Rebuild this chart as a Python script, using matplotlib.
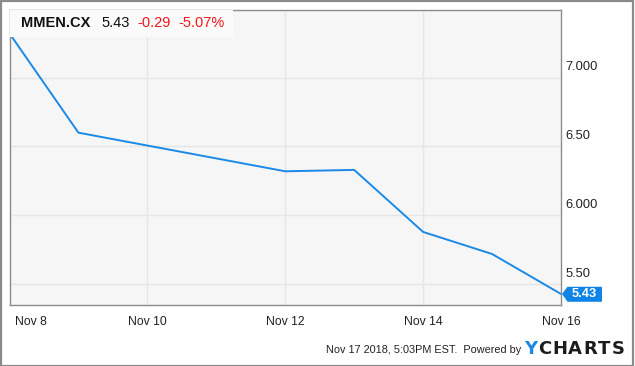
import numpy as np
import matplotlib
matplotlib.use("Agg")
from matplotlib import pyplot as plt
from matplotlib import dates as mdates
from matplotlib import patches, transforms
import datetime as dt

plt.rcParams['font.family'] = ['Liberation Sans', 'DejaVu Sans']

# Daily closes (weekend Nov 10/11 skipped)
dates = ["2018-11-08", "2018-11-09", "2018-11-12", "2018-11-13",
         "2018-11-14", "2018-11-15", "2018-11-16"]
closes = [7.32, 6.60, 6.32, 6.33, 5.88, 5.72, 5.43]

ytick_vals = [5.5, 6.0, 6.5, 7.0]
ytick_labels = ["5.50", "6.000", "6.50", "7.000"]
xtick_dates = ["2018-11-08", "2018-11-10", "2018-11-12", "2018-11-14", "2018-11-16"]
xtick_labels = ["Nov 8", "Nov 10", "Nov 12", "Nov 14", "Nov 16"]

ticker = "MMEN.CX"
last_price = "5.43"
change = "-0.29"
change_pct = "-5.07%"
stamp = "Nov 17 2018, 5:03PM EST.  Powered by"

line_blue = "#1b8ae6"
tag_blue = "#0d84e6"
red = "#f2161b"

W, H = 635, 366
fig = plt.figure(figsize=(W / 100, H / 100), dpi=100)
fig.patch.set_facecolor("white")

# pixel -> figure fraction helpers
fx = lambda px: px / W
fy = lambda py: 1 - py / H

ax = fig.add_axes([fx(9.5), fy(305), (561 - 9.5) / W, (305 - 10) / H])
ax.set_facecolor("#f6f6f6")

x = mdates.date2num([dt.datetime.strptime(d, "%Y-%m-%d") for d in dates])
xt = mdates.date2num([dt.datetime.strptime(d, "%Y-%m-%d") for d in xtick_dates])

ax.plot(x, closes, color=line_blue, lw=1.4, zorder=3, solid_joinstyle="miter")
ax.set_xlim(xt[0], xt[-1])
ax.set_ylim(5.35, 7.49)

# grid
for v in ytick_vals:
    ax.axhline(v, color="#e6e6e6", lw=1, zorder=1)
for v in xt[1:-1]:
    ax.axvline(v, color="#e6e6e6", lw=1, zorder=1)
ax.set_xticks([])
ax.set_yticks([])
for s in ax.spines.values():
    s.set_color("#8c8c8c")
    s.set_linewidth(1)

# y labels sit above their gridlines, on the right
for v, lab in zip(ytick_vals, ytick_labels):
    ax.annotate(lab, xy=(1, v), xycoords=("axes fraction", "data"),
                xytext=(3, 7.3), textcoords="offset points",
                ha="left", va="center", fontsize=9.3, color="#222222")

# x labels below the axis
for i, (v, lab) in enumerate(zip(xt, xtick_labels)):
    ha = "left" if i == 0 else "center"
    dx = 3.8 if i == 0 else 0
    ax.annotate(lab, xy=(v, 0), xycoords=("data", "axes fraction"),
                xytext=(dx, -12.5), textcoords="offset points",
                ha=ha, va="center", fontsize=8.8, color="#222222")

# header box and quote
ax.add_patch(patches.Rectangle((fx(10), fy(37)), (233 - 10) / W, 27 / H,
                               transform=fig.transFigure, facecolor="#fafafa",
                               edgecolor="none", zorder=4))
hy = fy(23)
fig.text(fx(21), hy, ticker, fontsize=10.5, fontweight="bold", color="#111111",
         va="center", zorder=5)
fig.text(fx(101), hy, last_price, fontsize=10.5, color="#111111", va="center", zorder=5)
fig.text(fx(137), hy, change, fontsize=10.5, color=red, va="center", zorder=5)
fig.text(fx(178), hy, change_pct, fontsize=10.5, color=red, va="center", zorder=5)

# last price tag
off = fig.dpi_scale_trans + transforms.ScaledTranslation(x[-1], closes[-1], ax.transData)
tag = patches.Polygon([(0.01, 0), (0.065, 0.072), (0.41, 0.072), (0.41, -0.078), (0.065, -0.078)],
                      closed=True, transform=off, facecolor=tag_blue, edgecolor="none",
                      clip_on=False, zorder=6)
ax.add_patch(tag)
ax.text(0.235, -0.003, last_price, transform=off, color="white", fontsize=9.3,
        fontweight="bold", ha="center", va="center", zorder=7, clip_on=False)

# footer
fig.text(fx(326), fy(350), stamp, fontsize=7.8, color="#222222", va="center")
logo = "YCHARTS"
centers = [530.5, 545, 560, 574.5, 590.5, 604, 618.5]
for ch, cx in zip(logo, centers):
    fig.text(fx(cx), fy(348.5), ch, fontsize=13, fontweight="bold",
             family="DejaVu Sans", color=(line_blue if ch == "Y" else "#1c1c1c"),
             ha="center", va="center")

# outer frame
fig.add_artist(patches.Rectangle((0.5 / W, 0.5 / H), (W - 3) / W, (H - 1.5) / H,
                                 transform=fig.transFigure, fill=False,
                                 edgecolor="#8a8a8a", lw=1.6))

fig.savefig("out.png", dpi=100, facecolor=fig.get_facecolor())
